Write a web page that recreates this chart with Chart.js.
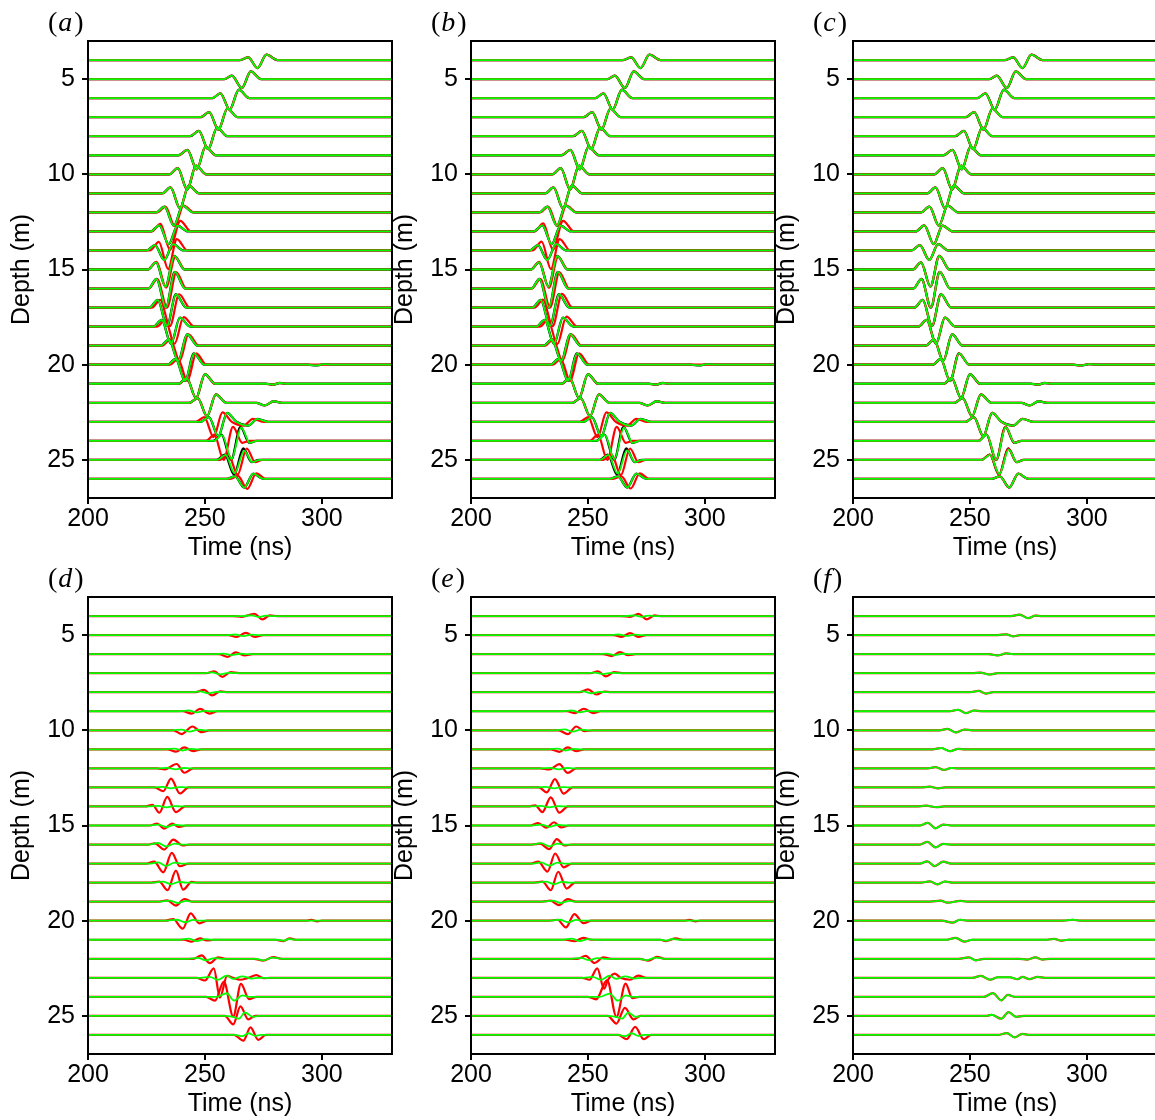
<!DOCTYPE html>
<html>
<head>
<meta charset="utf-8">
<script src="https://cdn.jsdelivr.net/npm/chart.js@4.4.1/dist/chart.umd.min.js"></script>
<style>
html, body { margin: 0; padding: 0; background: #fff; width: 1155px; height: 1120px; overflow: hidden; }
.panel { position: absolute; width: 400px; height: 563px; }
</style>
</head>
<body>
<div class="panel" style="left:0px;top:0px"><canvas id="pa" width="400" height="563"></canvas></div>
<div class="panel" style="left:383px;top:0px"><canvas id="pb" width="400" height="563"></canvas></div>
<div class="panel" style="left:765px;top:0px"><canvas id="pc" width="400" height="563"></canvas></div>
<div class="panel" style="left:0px;top:556px"><canvas id="pd" width="400" height="563"></canvas></div>
<div class="panel" style="left:383px;top:556px"><canvas id="pe" width="400" height="563"></canvas></div>
<div class="panel" style="left:765px;top:556px"><canvas id="pf" width="400" height="563"></canvas></div>
<script>
// receiver depths (m) and axis ticks
const depths = [4,5,6,7,8,9,10,11,12,13,14,15,16,17,18,19,20,21,22,23,24,25,26];
const xTicks = [200, 250, 300];
const yTicks = [5, 10, 15, 20, 25];

// each trace: pairs of [time (ns), amplitude (m, up = positive)]
const observed = [
  [265,0, 268.5,0.14, 272.5,-0.42, 276.3,0.28, 281,0],
  [258.3,0, 261.5,0.18, 265.8,-0.47, 269.6,0.4, 274,0],
  [253.2,0, 256.6,0.25, 260.6,-0.6, 264.5,0.44, 269,0],
  [248.2,0, 251.8,0.27, 255.8,-0.65, 259.6,0.45, 264,0],
  [243.7,0, 247.4,0.28, 251.4,-0.68, 255.2,0.45, 259.6,0],
  [238.7,0, 242.5,0.28, 246.5,-0.74, 250.3,0.45, 254.7,0],
  [234.8,0, 238.4,0.32, 242.4,-0.8, 246.2,0.45, 250.6,0],
  [231.8,0, 235.3,0.31, 239.3,-0.78, 243.1,0.4, 247.5,0],
  [229.1,0, 232.7,0.3, 236.7,-0.7, 240.5,0.35, 244.9,0],
  [226.8,0, 230.5,0.32, 234.5,-0.67, 238.3,0.3, 242.7,0],
  [225.1,0, 228.6,0.28, 232.6,-0.5, 236.4,0.33, 240.8,0],
  [225.6,0, 229.1,0.37, 233.1,-0.9, 236.9,0.72, 241.3,0],
  [225.8,0, 229.3,0.5, 233.3,-1.0, 237.1,0.88, 241.5,0],
  [226.3,0, 229.8,0.4, 233.8,-0.96, 237.6,0.7, 242,0],
  [228,0, 231.5,0.35, 235.5,-0.9, 239.3,0.47, 243.7,0],
  [231.1,0, 234.6,0.33, 238.6,-0.8, 242.4,0.6, 246.8,0],
  [234,0, 237.5,0.3, 241.5,-0.86, 245.3,0.6, 249.7,0, 294,0, 297.5,-0.04, 301,0.03, 304.5,0],
  [238.7,0, 242.2,0.3, 246.2,-0.75, 250,0.5, 254.4,0, 276,0, 279,-0.05, 282,0.04, 285,0],
  [243.4,0, 246.9,0.25, 250.9,-0.7, 254.7,0.44, 259.1,0, 272,0, 275.5,-0.14, 279.5,0.08, 283,0],
  [248.2,0, 251.7,0.25, 255.7,-0.75, 259.5,0.47, 263.5,0, 268.5,-0.2, 272.5,0.16, 277,0],
  [253.6,0, 257.1,0.33, 261.2,-1.0, 265.2,0.74, 269,-0.1, 272,0],
  [255,0, 258.5,0.28, 262.5,-0.77, 266.4,0.6, 270,-0.12, 273,0],
  [259.3,0, 262.8,0.14, 266.8,-0.45, 270.7,0.28, 275,0]
];

// model traces that differ from the observed ones (keyed by depth)
const redA = {
  12: [229.6,0, 233.1,0.3, 237.1,-0.72, 240.9,0.36, 245.3,0],
  13: [227.3,0, 231,0.4, 235,-0.95, 239.5,0.55, 244,0],
  14: [226.5,0, 230.3,0.45, 234.3,-0.98, 238,0.6, 242.5,0],
  15: [225.6,0, 229.3,0.4, 233.4,-0.95, 237.3,0.65, 241.5,0],
  16: [226,0, 229.6,0.5, 233.8,-1.0, 237.8,0.85, 242,0],
  17: [227.3,0, 230.9,0.4, 235,-0.98, 239,0.7, 243.5,0],
  18: [229.5,0, 233,0.35, 237,-0.9, 240.9,0.5, 245.5,0],
  19: [231.7,0, 235.2,0.33, 239.2,-0.8, 243,0.6, 247.4,0],
  20: [235,0, 238.5,0.3, 242.5,-0.86, 246.3,0.6, 250.7,0],
  23: [246.2,0, 249.7,0.25, 253.7,-0.8, 257.5,0.5, 261.5,0, 266.5,-0.2, 270.5,0.16, 275,0],
  24: [250.5,0, 254,0.33, 258,-1.0, 262,0.74, 266,-0.1, 269,0],
  25: [256.5,0, 260,0.28, 264,-0.77, 267.9,0.6, 271.5,-0.12, 274.5,0],
  26: [260.6,0, 264.1,0.16, 268.1,-0.52, 272,0.3, 276,0]
};
const greenA = {
  24: [253.8,0, 257.3,0.3, 261.4,-0.95, 265.5,0.7, 269.2,-0.1, 272.2,0],
  25: [255.3,0, 258.8,0.26, 262.7,-0.7, 266.8,0.48, 270.3,-0.12, 273.3,0]
};
const redB = {
  12: [229.5,0, 233,0.3, 237,-0.72, 240.8,0.36, 245.2,0],
  13: [227.2,0, 230.9,0.42, 235,-0.95, 239.4,0.55, 244,0],
  14: [226.3,0, 230.2,0.46, 234.2,-0.98, 237.9,0.6, 242.4,0],
  15: [225.6,0, 229.2,0.4, 233.3,-0.96, 237.2,0.66, 241.5,0],
  16: [226,0, 229.7,0.5, 233.8,-1.0, 237.8,0.85, 242,0],
  17: [227.2,0, 230.8,0.42, 234.9,-0.98, 238.9,0.72, 243.4,0],
  18: [229.4,0, 232.9,0.36, 236.9,-0.92, 240.8,0.52, 245.4,0],
  19: [231.6,0, 235.1,0.33, 239.1,-0.8, 242.9,0.6, 247.3,0],
  20: [234.9,0, 238.4,0.3, 242.4,-0.86, 246.2,0.6, 250.6,0],
  23: [246.6,0, 250.1,0.25, 254.1,-0.8, 257.9,0.5, 261.9,0, 266.7,-0.2, 270.7,0.16, 275,0],
  24: [250.8,0, 254.3,0.33, 258.3,-1.0, 262.3,0.74, 266.2,-0.1, 269.2,0],
  25: [256.6,0, 260.1,0.28, 264.1,-0.8, 268,0.6, 271.6,-0.12, 274.6,0],
  26: [260.8,0, 264.3,0.14, 268.3,-0.5, 272.2,0.3, 276.2,0]
};
const greenB = {
  24: [253.7,0, 257.2,0.31, 261.3,-0.96, 265.4,0.7, 269.1,-0.1, 272.1,0],
  25: [255.2,0, 258.7,0.26, 262.7,-0.72, 266.7,0.5, 270.2,-0.12, 273.2,0]
};
const redC = {};
const greenC = {
  24: [253.7,0, 257.2,0.32, 261.3,-0.98, 265.3,0.72, 269.1,-0.1, 272.1,0],
  25: [255.1,0, 258.6,0.27, 262.6,-0.74, 266.6,0.54, 270.1,-0.12, 273.1,0]
};

// residuals, panels (d)-(f)
const resRedD = [
  [262,0, 265.7,-0.04, 271.1,0.12, 274.6,-0.18, 277.8,0.03, 281,0],
  [260,0, 263.5,-0.1, 267.5,0.12, 271.4,-0.1, 275,0],
  [256,0, 259.7,-0.14, 263.2,0.09, 267.1,-0.07, 270.5,0],
  [250.5,0, 254,0.1, 257.4,-0.19, 261,0.05, 264.5,0],
  [246,0, 249.6,0.12, 253.1,-0.17, 256.6,0.04, 260,0],
  [240.5,0, 244.3,-0.12, 247.9,0.12, 251.9,-0.12, 255.5,0],
  [236.5,0, 240,-0.2, 244.7,0.2, 248.6,-0.1, 252,0],
  [234,0, 237.6,-0.12, 241.2,0.1, 245,-0.09, 248.5,0],
  [229.5,0, 232.9,-0.05, 237.9,0.23, 241.2,-0.23, 245,0],
  [228.5,0, 232.2,-0.2, 235.5,0.46, 239.3,-0.32, 243,0],
  [224.5,0, 227.6,0.09, 230.5,-0.33, 233.9,0.5, 237.6,-0.3, 241.5,0],
  [226.5,0, 229.6,0.1, 232.5,-0.16, 236,0.1, 239,-0.08, 242,0],
  [225.5,0, 228.6,0.06, 232.6,-0.26, 236.5,0.26, 240.5,-0.05, 243.5,0],
  [225,0, 228.3,0.1, 232.2,-0.46, 235.8,0.56, 239.3,-0.14, 243,0],
  [227,0, 230.5,0.05, 234,-0.4, 237.6,0.63, 240.7,-0.37, 244.3,0.04, 247,0],
  [230,0, 233.9,0.07, 237.6,-0.21, 241.2,0.14, 244.5,0],
  [233,0, 236.4,0.09, 240.5,-0.42, 243.9,0.39, 247.6,-0.14, 251,0, 293,0, 295.5,0.04, 298,-0.03, 300,0],
  [241,0, 244.3,-0.1, 247.9,0.07, 250.8,-0.04, 254,0, 280,0, 283.5,-0.07, 286.3,0.07, 289,0],
  [245,0, 248.6,0.18, 252.1,-0.23, 255.6,0.07, 259,0, 271,0, 274.9,-0.1, 279.2,0.09, 283,0],
  [246.5,0, 250,-0.14, 253.8,0.5, 256.4,-1.04, 259.5,0.1, 262,0, 265,-0.1, 268.5,0, 272,0.14, 275,-0.02, 278,0],
  [250.5,0, 254.3,-0.2, 258.1,0.8, 262.1,-1.03, 265.4,0.68, 268.9,-0.12, 272,0],
  [258.5,0, 262.1,-0.44, 265.2,0.5, 268.5,-0.18, 271.5,0],
  [262.5,0, 266.4,-0.3, 269.5,0.4, 272.8,-0.26, 276,0]
];
const resGreenD = [
  [266,0, 270,0.03, 273,-0.05, 276,0.02, 279,0],
  [259,0, 263,0.03, 266.5,-0.05, 270,0.02, 273,0],
  [254,0, 258,0.03, 261.5,-0.05, 265,0.02, 268,0],
  [249,0, 253,0.04, 256.5,-0.06, 260,0.02, 263,0],
  [244,0, 248,0.04, 251.5,-0.06, 255,0.02, 258,0],
  [239,0, 243,0.04, 246.5,-0.06, 250,0.02, 253,0],
  [236,0, 240,0.04, 243.5,-0.07, 247,0.03, 250,0],
  [233,0, 237,0.04, 240.5,-0.06, 244,0.02, 247,0],
  [230,0, 234,0.03, 237.5,-0.05, 241,0.02, 244,0],
  [228,0, 232,0.03, 235.5,-0.05, 239,0.02, 242,0],
  [226,0, 230,0.03, 233.5,-0.05, 237,0.02, 240,0],
  [226,0, 230,0.05, 233.5,-0.08, 237,0.04, 240,0],
  [226,0, 230,0.08, 233.5,-0.1, 237,0.05, 240,0],
  [226,0, 230,0.06, 233.5,-0.12, 237,0.05, 240,0],
  [228,0, 232,0.05, 235.5,-0.08, 239,0.04, 242,0],
  [231,0, 235,0.05, 238.5,-0.07, 242,0.04, 245,0],
  [234,0, 238,0.05, 241.5,-0.08, 245,0.04, 248,0],
  [239,0, 243,0.06, 246.5,-0.07, 250,0.03, 253,0, 281,0, 283.5,-0.05, 286,0.04, 289,0],
  [243,0, 247,0.05, 250.5,-0.08, 254,0.04, 257,0, 272,0, 275,-0.08, 279,0.06, 283,0],
  [248,0, 252,0.05, 255.5,-0.1, 259.3,0.12, 262,-0.05, 266,0.08, 270,-0.04, 273,0],
  [255,0, 259.3,0.19, 262.5,-0.2, 266,0.08, 269,0],
  [258,0, 262,-0.05, 264.5,-0.15, 267.1,0.18, 270.5,-0.05, 273,0],
  [263,0, 266,-0.06, 268.6,0.09, 271.5,-0.05, 274,0]
];
const resRedE = [
  [264,0, 268,-0.04, 271.6,0.11, 275.2,-0.17, 278.5,0.03, 281,0],
  [261,0, 264.4,-0.09, 268,0.1, 271.6,-0.09, 275,0],
  [256.5,0, 260.1,-0.1, 263.7,0.1, 267.3,-0.05, 270.5,0],
  [251,0, 254.3,0.1, 257.6,-0.17, 261.2,0.05, 264.5,0],
  [246.5,0, 250,0.15, 253.6,-0.12, 257,0.03, 260,0],
  [241,0, 244.5,-0.1, 248.3,0.13, 252.2,-0.1, 255.5,0],
  [237.5,0, 241.4,-0.2, 245,0.2, 248.6,-0.05, 252,0],
  [234,0, 237.8,-0.13, 241.4,0.1, 245,-0.1, 248.5,0],
  [229.5,0, 233.5,-0.06, 237.8,0.22, 241.4,-0.24, 245,0],
  [229,0, 232.4,-0.26, 235.9,0.44, 239.6,-0.33, 243.5,0],
  [224.5,0, 227.5,0.06, 230.5,-0.3, 234.1,0.48, 237.8,-0.33, 241.5,0],
  [225.5,0, 228.7,0.13, 232.3,-0.11, 235.5,0.17, 238.5,-0.1, 242,0],
  [226,0, 229.5,0.05, 233.4,-0.24, 236.7,0.28, 240,-0.05, 243,0],
  [225.5,0, 228.8,0.1, 232.7,-0.42, 236,0.53, 239.6,-0.2, 243,0],
  [227,0, 230.6,0.05, 234.1,-0.4, 237.3,0.57, 240.9,-0.31, 244.5,0],
  [230.5,0, 234,0.05, 237.5,-0.18, 241.4,0.13, 245,0],
  [233.5,0, 237,0.05, 240.6,-0.35, 244.2,0.35, 248.1,-0.13, 251.5,0, 291,0, 293.5,0.04, 296,-0.03, 298,0],
  [240.5,0, 244.2,-0.08, 248.1,0.1, 251.5,0, 281,0, 283.3,-0.07, 287.6,0.07, 290.5,0],
  [245.5,0, 249,0.15, 252.9,-0.22, 256.5,0.07, 260,0, 272,0, 275.9,-0.1, 279.5,0.1, 283,0],
  [247.5,0, 250.7,-0.1, 254,0.5, 256.9,-0.57, 258.6,-0.1, 261.5,0.22, 264,0, 268,-0.1, 271.6,0.12, 275,0],
  [250,0, 253.5,-0.13, 258.2,0.88, 262.2,-1.05, 266.1,0.7, 269,-0.07, 272,0],
  [258.5,0, 262.2,-0.4, 265.8,0.42, 269.5,-0.18, 272.5,0],
  [263,0, 266.6,-0.22, 270.2,0.42, 273.8,-0.22, 277,0]
];
const resGreenE = [
  [266,0, 270,0.03, 273,-0.04, 276,0.02, 279,0],
  [259,0, 263,0.03, 266.5,-0.04, 270,0.02, 273,0],
  [254,0, 258,0.03, 261.5,-0.05, 265,0.02, 268,0],
  [249,0, 253,0.03, 256.5,-0.05, 260,0.02, 263,0],
  [244,0, 248,0.04, 251.5,-0.06, 255,0.02, 258,0],
  [239,0, 243,0.04, 246.5,-0.06, 250,0.02, 253,0],
  [236,0, 240,0.05, 243.5,-0.07, 247,0.03, 250,0],
  [233,0, 237,0.04, 240.5,-0.06, 244,0.02, 247,0],
  [230,0, 234,0.03, 237.5,-0.05, 241,0.02, 244,0],
  [228,0, 232,0.03, 235.5,-0.05, 239,0.02, 242,0],
  [226,0, 230,0.03, 233.5,-0.05, 237,0.02, 240,0],
  [226,0, 230,0.05, 233.5,-0.07, 237,0.04, 240,0],
  [226,0, 230,0.07, 233.5,-0.1, 237,0.05, 240,0],
  [226,0, 230,0.06, 233.5,-0.11, 237,0.05, 240,0],
  [228,0, 232,0.05, 235.5,-0.08, 239,0.04, 242,0],
  [231,0, 235,0.05, 238.5,-0.07, 242,0.04, 245,0],
  [234,0, 238,0.05, 241.5,-0.08, 245,0.04, 248,0],
  [239,0, 243,0.06, 246.5,-0.07, 250,0.03, 253,0, 281,0, 283.5,-0.05, 286,0.04, 289,0],
  [243,0, 247,0.05, 250.5,-0.07, 254,0.04, 257,0, 272,0, 275,-0.07, 279,0.06, 283,0],
  [248,0, 252,0.05, 255.5,-0.1, 259.3,0.12, 262,-0.05, 266,0.08, 270,-0.04, 273,0],
  [255,0, 259.3,0.17, 262.8,-0.2, 266.2,0.08, 269,0],
  [258,0, 262,-0.05, 264.6,-0.14, 267.2,0.17, 270.5,-0.05, 273,0],
  [263,0, 266,-0.06, 268.6,0.09, 271.5,-0.05, 274,0]
];
const resGreenF = [
  [267.5,0, 271.3,0.07, 274.9,-0.11, 278,0.02, 281,0],
  [262,0, 265.5,0.04, 268.4,-0.07, 271.5,0],
  [258,0, 261.9,-0.07, 265.5,0.04, 268.5,0],
  [251,0, 254.5,0.03, 258.3,-0.07, 262,0],
  [250,0, 253.7,0.07, 256.8,-0.07, 260,0],
  [241.5,0, 245,0.08, 248.3,-0.1, 251.9,0.04, 255,0],
  [237,0, 240.4,0.07, 244,-0.11, 247.6,0.04, 251,0],
  [234,0, 237.8,0.07, 241.5,-0.1, 245,0.02, 248,0],
  [232,0, 235.3,0.07, 238.9,-0.08, 242,0.02, 245,0],
  [229,0, 232.8,0.04, 236.3,-0.05, 239.5,0],
  [227,0, 231.3,0.04, 235.6,-0.04, 239,0],
  [228.5,0, 232,0.14, 235.3,-0.15, 238.6,0.05, 242,0],
  [228.5,0, 231.8,0.14, 235.3,-0.15, 238.5,0.03, 242,0],
  [228.5,0, 231.8,0.12, 234.9,-0.13, 238.6,0.1, 242,0],
  [229,0, 232.9,0.07, 236.1,-0.09, 239.3,0.06, 243,0],
  [233,0, 237.5,0.05, 240.4,-0.05, 246,0.04, 249,0],
  [238,0, 242.5,-0.1, 245.8,0.05, 249,0, 290,0, 294,0.05, 297,0],
  [240,0, 243.9,0.1, 247.6,-0.1, 251,0, 283,0, 286,0.05, 289,-0.05, 292,0],
  [245,0, 249.6,0.07, 252.6,-0.08, 256,0, 271,0, 274.5,-0.04, 278,0.07, 281,-0.04, 284,0],
  [251,0, 254.7,0.1, 258.6,-0.1, 262,0.03, 267,0.03, 270.4,-0.07, 272.5,0.05, 275.4,-0.07, 279,0.05, 282,0],
  [256,0, 259.8,0.2, 263.4,-0.18, 266.2,0.1, 269.5,0],
  [257,0, 259.3,0.06, 263.4,-0.15, 266.5,0.2, 269.8,-0.05, 273,0],
  [262,0, 265.8,0.1, 269.1,-0.13, 272.4,0.06, 275.5,0]
];
const resRedF = resGreenF;

const FONT = '"Liberation Sans", Arial, sans-serif';

function withOverrides(base, over) {
  return depths.map((d, i) => over[d] || base[i]);
}

function traceData(depth, pts) {
  const out = [{ x: 200, y: depth }];
  for (let i = 0; i < pts.length; i += 2) out.push({ x: pts[i], y: depth - pts[i + 1] });
  out.push({ x: 330, y: depth });
  return out;
}

const framePlugin = {
  id: 'frame',
  afterDraw(chart, args, opts) {
    const { ctx, chartArea: a } = chart;
    ctx.save();
    ctx.strokeStyle = '#000';
    ctx.lineWidth = 2;
    ctx.strokeRect(a.left, a.top, a.right - a.left, a.bottom - a.top);
    // panel letter, LaTeX style: upright parens, italic letter
    ctx.fillStyle = '#000';
    ctx.textBaseline = 'alphabetic';
    let x = 48;
    const y = 31;
    ctx.font = '28px "Liberation Serif", serif';
    ctx.fillText('(', x, y);
    x += ctx.measureText('(').width + 1;
    ctx.font = 'italic 28px "Liberation Serif", serif';
    ctx.fillText(opts.letter, x, y);
    x += ctx.measureText(opts.letter).width + 2;
    ctx.font = '28px "Liberation Serif", serif';
    ctx.fillText(')', x, y);
    ctx.restore();
  }
};

function makePanel(id, letter, black, red, green) {
  const datasets = [];
  const series = [
    { traces: green, color: '#00ff00', width: 1.8, order: 1 },
    { traces: red, color: '#ff0000', width: 2.2, order: 2 }
  ];
  if (black) series.push({ traces: black, color: '#000000', width: 2.3, order: 3 });
  series.forEach(s => {
    depths.forEach((d, i) => {
      datasets.push({
        data: traceData(d, s.traces[i]),
        borderColor: s.color,
        borderWidth: s.width,
        pointRadius: 0,
        fill: false,
        cubicInterpolationMode: 'monotone',
        order: s.order
      });
    });
  });

  new Chart(document.getElementById(id), {
    type: 'line',
    data: { datasets },
    plugins: [framePlugin],
    options: {
      responsive: false,
      animation: false,
      events: [],
      layout: { padding: { top: 41, right: 8, left: 0, bottom: 0 } },
      plugins: {
        legend: { display: false },
        tooltip: { enabled: false },
        frame: { letter }
      },
      scales: {
        x: {
          type: 'linear',
          min: 200,
          max: 330,
          afterBuildTicks: s => { s.ticks = xTicks.map(v => ({ value: v })); },
          afterFit: s => { s.height = 65; },
          grid: { drawOnChartArea: false, drawTicks: true, tickLength: 6, color: '#000', lineWidth: 2 },
          border: { display: false },
          ticks: { color: '#000', font: { family: FONT, size: 25 }, padding: 0, maxRotation: 0, autoSkip: false },
          title: { display: true, text: 'Time (ns)', color: '#000', font: { family: FONT, size: 25 }, padding: { top: 0, bottom: 0 } }
        },
        y: {
          type: 'linear',
          reverse: true,
          min: 3,
          max: 27,
          afterBuildTicks: s => { s.ticks = yTicks.map(v => ({ value: v })); },
          afterFit: s => { s.width = 88; },
          grid: { drawOnChartArea: false, drawTicks: true, tickLength: 6, color: '#000', lineWidth: 2 },
          border: { display: false },
          ticks: { color: '#000', font: { family: FONT, size: 25 }, padding: 7, autoSkip: false },
          title: { display: true, text: 'Depth (m)', color: '#000', font: { family: FONT, size: 25 }, padding: { top: 7, bottom: 0 } }
        }
      }
    }
  });
}

makePanel('pa', 'a', observed, withOverrides(observed, redA), withOverrides(observed, greenA));
makePanel('pb', 'b', observed, withOverrides(observed, redB), withOverrides(observed, greenB));
makePanel('pc', 'c', observed, withOverrides(observed, redC), withOverrides(observed, greenC));
makePanel('pd', 'd', null, resRedD, resGreenD);
makePanel('pe', 'e', null, resRedE, resGreenE);
makePanel('pf', 'f', null, resRedF, resGreenF);
</script>
</body>
</html>
